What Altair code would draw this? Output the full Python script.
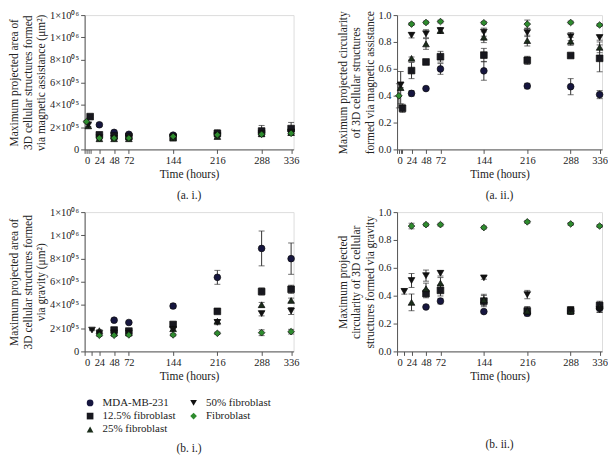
import altair as alt
import pandas as pd

FONT = "Liberation Serif"
TXT = "#222222"

SERIES = ["MDA-MB-231", "12.5% fibroblast", "25% fibroblast", "50% fibroblast", "Fibroblast"]
LEGEND_ORDER = ["MDA-MB-231", "50% fibroblast", "12.5% fibroblast", "Fibroblast", "25% fibroblast"]
SHAPES = ["circle", "triangle-down", "square", "diamond", "triangle-up"]
FILLS = ["#16163f", "#111111", "#18181f", "#2e8b2e", "#1b2d1b"]

# (a. i.) magnetic assistance – projected area (um^2)
A1_T = {
    "MDA-MB-231": [24, 48, 72, 144, 216, 288, 336],
    "12.5% fibroblast": [9, 24, 48, 72, 144, 216, 288, 336],
    "25% fibroblast": [6, 24, 48, 72, 144, 216, 288, 336],
    "50% fibroblast": [6, 24, 48, 72, 144, 216, 288, 336],
    "Fibroblast": [3, 24, 48, 72, 144, 216, 288, 336],
}
A1_V = {
    "MDA-MB-231": [2.2e5, 1.52e5, 1.35e5, 1.27e5, 1.4e5, 1.55e5, 1.7e5],
    "12.5% fibroblast": [2.93e5, 1.3e5, 1.2e5, 1.15e5, 1.1e5, 1.44e5, 1.64e5, 1.86e5],
    "25% fibroblast": [2.1e5, 0.95e5, 0.95e5, 0.95e5, 1.0e5, 1.15e5, 1.4e5, 1.5e5],
    "50% fibroblast": [2.2e5, 1.05e5, 1.0e5, 1.0e5, 1.05e5, 1.25e5, 1.45e5, 1.55e5],
    "Fibroblast": [2.48e5, 1.01e5, 1.01e5, 1.01e5, 1.16e5, 1.3e5, 1.35e5, 1.44e5],
}
A1_E = {
    "MDA-MB-231": [0.15e5, 0.12e5, 0.1e5, 0.1e5, 0.2e5, 0.25e5, 0.3e5],
    "12.5% fibroblast": [0.1e5, 0.15e5, 0.15e5, 0.15e5, 0.15e5, 0.3e5, 0.5e5, 0.55e5],
    "25% fibroblast": [0.2e5, 0.1e5, 0.15e5, 0.1e5, 0.1e5, 0.15e5, 0.15e5, 0.15e5],
    "50% fibroblast": [0.15e5, 0.1e5, 0.1e5, 0.1e5, 0.1e5, 0.15e5, 0.15e5, 0.15e5],
    "Fibroblast": [0.1e5, 0.1e5, 0.1e5, 0.1e5, 0.1e5, 0.15e5, 0.15e5, 0.15e5],
}

# (a. ii.) magnetic assistance – circularity
A2_T = A1_T
A2_V = {
    "MDA-MB-231": [0.417, 0.453, 0.599, 0.585, 0.472, 0.467, 0.408],
    "12.5% fibroblast": [0.306, 0.587, 0.651, 0.69, 0.702, 0.663, 0.699, 0.678],
    "25% fibroblast": [0.46, 0.678, 0.785, 0.885, 0.835, 0.81, 0.805, 0.76],
    "50% fibroblast": [0.48, 0.85, 0.861, 0.885, 0.873, 0.87, 0.84, 0.833],
    "Fibroblast": [0.399, 0.933, 0.945, 0.952, 0.943, 0.933, 0.945, 0.926],
}
A2_E = {
    "MDA-MB-231": [0.02, 0.01, 0.04, 0.07, 0.02, 0.06, 0.03],
    "12.5% fibroblast": [0.03, 0.06, 0.01, 0.04, 0.05, 0.03, 0.01, 0.1],
    "25% fibroblast": [0.12, 0.01, 0.04, 0.02, 0.04, 0.04, 0.03, 0.04],
    "50% fibroblast": [0.02, 0.02, 0.03, 0.02, 0.03, 0.03, 0.03, 0.02],
    "Fibroblast": [0.09, 0.01, 0.01, 0.01, 0.01, 0.03, 0.01, 0.01],
}

# (b. i.) gravity – projected area (um^2)
B1_T = {
    "MDA-MB-231": [48, 72, 144, 216, 288, 336],
    "12.5% fibroblast": [48, 72, 144, 216, 288, 336],
    "25% fibroblast": [24, 48, 72, 144, 216, 288, 336],
    "50% fibroblast": [12, 24, 48, 72, 144, 216, 288, 336],
    "Fibroblast": [24, 48, 72, 144, 216, 288, 336],
}
B1_V = {
    "MDA-MB-231": [2.69e5, 2.49e5, 3.91e5, 6.38e5, 8.87e5, 7.99e5],
    "12.5% fibroblast": [1.84e5, 1.75e5, 2.32e5, 3.45e5, 5.16e5, 5.35e5],
    "25% fibroblast": [1.79e5, 1.6e5, 1.6e5, 1.95e5, 2.6e5, 4.02e5, 4.39e5],
    "50% fibroblast": [1.84e5, 1.55e5, 1.6e5, 1.6e5, 1.9e5, 2.5e5, 3.26e5, 3.48e5],
    "Fibroblast": [1.39e5, 1.39e5, 1.42e5, 1.42e5, 1.56e5, 1.61e5, 1.7e5],
}
B1_E = {
    "MDA-MB-231": [0.15e5, 0.1e5, 0.2e5, 0.6e5, 1.5e5, 1.35e5],
    "12.5% fibroblast": [0.1e5, 0.1e5, 0.15e5, 0.1e5, 0.3e5, 0.35e5],
    "25% fibroblast": [0.1e5, 0.1e5, 0.1e5, 0.1e5, 0.15e5, 0.2e5, 0.2e5],
    "50% fibroblast": [0.05e5, 0.1e5, 0.1e5, 0.1e5, 0.1e5, 0.2e5, 0.2e5, 0.3e5],
    "Fibroblast": [0.1e5, 0.1e5, 0.1e5, 0.1e5, 0.1e5, 0.25e5, 0.2e5],
}

# (b. ii.) gravity – circularity
B2_T = B1_T
B2_V = {
    "MDA-MB-231": [0.319, 0.361, 0.286, 0.274, 0.29, 0.31],
    "12.5% fibroblast": [0.415, 0.438, 0.361, 0.29, 0.291, 0.33],
    "25% fibroblast": [0.352, 0.45, 0.49, 0.37, 0.29, 0.29, 0.32],
    "50% fibroblast": [0.431, 0.509, 0.544, 0.561, 0.528, 0.408, 0.3, 0.3],
    "Fibroblast": [0.9, 0.91, 0.91, 0.889, 0.93, 0.915, 0.9],
}
B2_E = {
    "MDA-MB-231": [0.01, 0.02, 0.01, 0.02, 0.02, 0.03],
    "12.5% fibroblast": [0.03, 0.04, 0.04, 0.03, 0.02, 0.03],
    "25% fibroblast": [0.06, 0.04, 0.04, 0.04, 0.03, 0.02, 0.03],
    "50% fibroblast": [0.02, 0.05, 0.04, 0.02, 0.01, 0.03, 0.02, 0.02],
    "Fibroblast": [0.02, 0.01, 0.01, 0.01, 0.01, 0.01, 0.01],
}

X_TICKS_A = [0, 3, 6, 9, 24, 48, 72, 144, 216, 288, 336]
X_TICKS_B = [0, 12, 24, 48, 72, 144, 216, 288, 336]
AREA_TICKS = [0, 2e5, 4e5, 6e5, 8e5, 1e6, 1.2e6]
CIRC_TICKS = [0, 0.2, 0.4, 0.6, 0.8, 1.0]

AREA_LABEL = ("datum.value == 0 ? '0' : (datum.value >= 1000000 ? '1×10⁰⁶' : "
              "format(datum.value / 100000, 'd') + '×10⁰⁵')")
X_LABEL = "datum.value > 0 && datum.value < 20 ? '' : datum.label"


def frame(T, V, E):
    rows, caps = [], []
    for s in SERIES:
        for t, v, e in zip(T[s], V[s], E[s]):
            rows.append({"series": s, "t": t, "v": v, "lo": v - e, "hi": v + e})
            caps.append({"series": s, "t": t, "c": v - e})
            caps.append({"series": s, "t": t, "c": v + e})
    return pd.DataFrame(rows), pd.DataFrame(caps)


def panel(T, V, E, ydom, yticks, ylabel_expr, yfmt, ytitle, xticks, caption,
          cap_offset, width, height, legend=False):
    df, caps = frame(T, V, E)
    xaxis = alt.Axis(values=xticks, labelExpr=X_LABEL, title="Time (hours)",
                     grid=False, tickSize=4, labelPadding=2, titlePadding=3,
                     labelFontSize=10.5, titleFontSize=11.5, labelFont=FONT,
                     titleFont=FONT, titleFontWeight="normal", labelColor=TXT,
                     titleColor=TXT, domainColor="#555", tickColor="#555")
    yaxis_kw = dict(values=yticks, title=ytitle, grid=False, tickSize=4,
                    labelPadding=2, titlePadding=3, labelFontSize=10.5,
                    titleFontSize=11.5, labelFont=FONT, titleFont=FONT,
                    titleFontWeight="normal", labelColor=TXT, titleColor=TXT,
                    domainColor="#555", tickColor="#555", titleLineHeight=13.5)
    if ylabel_expr:
        yaxis_kw["labelExpr"] = ylabel_expr
    if yfmt:
        yaxis_kw["format"] = yfmt
    yaxis = alt.Axis(**yaxis_kw)
    xs = alt.Scale(domain=[0, 340], nice=False)
    ys = alt.Scale(domain=ydom, nice=False)

    rules = alt.Chart(df).mark_rule(color="#333", strokeWidth=1).encode(
        x=alt.X("t:Q", scale=xs, axis=xaxis),
        y=alt.Y("lo:Q", scale=ys, axis=yaxis),
        y2="hi:Q",
    )
    capm = alt.Chart(caps).mark_tick(orient="horizontal", size=6, thickness=1,
                                     color="#333").encode(
        x=alt.X("t:Q", scale=xs, axis=xaxis),
        y=alt.Y("c:Q", scale=ys, axis=yaxis),
    )
    if legend:
        leg = alt.Legend(title=None, orient="bottom", direction="horizontal",
                         columns=2, labelFont=FONT, labelFontSize=11,
                         labelColor=TXT, symbolSize=45, symbolStrokeColor="#111",
                         symbolStrokeWidth=0.7, columnPadding=12, rowPadding=1.5,
                         offset=15, padding=0, labelOffset=7)
    else:
        leg = None
    pts = alt.Chart(df).mark_point(filled=True, size=45, stroke="#0d0d0d",
                                   strokeWidth=0.7, opacity=1).encode(
        x=alt.X("t:Q", scale=xs, axis=xaxis),
        y=alt.Y("v:Q", scale=ys, axis=yaxis),
        shape=alt.Shape("series:N", scale=alt.Scale(domain=LEGEND_ORDER, range=SHAPES),
                        legend=leg),
        fill=alt.Fill("series:N", scale=alt.Scale(domain=LEGEND_ORDER, range=FILLS),
                      legend=leg),
    )
    return alt.layer(rules, capm, pts).properties(
        width=width, height=height,
        title=alt.TitleParams(caption, orient="bottom", frame="group",
                              anchor="middle", font=FONT, fontSize=11.5,
                              fontWeight="normal", color=TXT, offset=cap_offset),
    )


a1 = panel(A1_T, A1_V, A1_E, [0, 1.2e6], AREA_TICKS, AREA_LABEL, None,
           ["Maximum projected area of", "3D cellular structures formed",
            "via magnetic assistance (μm²)"],
           X_TICKS_A, "(a. i.)", 10, 210, 135)
a2 = panel(A2_T, A2_V, A2_E, [0, 1.0], CIRC_TICKS, None, ".1f",
           ["Maximum projected circularity", "of 3D cellular structures",
            "formed via magnetic assistance"],
           X_TICKS_A, "(a. ii.)", 10, 206, 135)
b1 = panel(B1_T, B1_V, B1_E, [0, 1.2e6], AREA_TICKS, AREA_LABEL, None,
           ["Maximum projected area of", "3D cellular structures formed",
            "via gravity (μm²)"],
           X_TICKS_B, "(b. i.)", 8, 210, 140, legend=True)
b2 = panel(B2_T, B2_V, B2_E, [0, 1.0], CIRC_TICKS, None, ".1f",
           ["Maximum projected", "circularity of 3D cellular",
            "structures formed via gravity"],
           X_TICKS_B, "(b. ii.)", 57, 206, 140)

top = alt.hconcat(a1, a2, spacing=37).resolve_scale(shape="independent", fill="independent").resolve_legend(shape="independent", fill="independent")
bottom = alt.hconcat(b1, b2, spacing=37).resolve_scale(shape="independent", fill="independent").resolve_legend(shape="independent", fill="independent")

chart = alt.vconcat(top, bottom, spacing=4).resolve_scale(
    shape="independent", fill="independent").resolve_legend(
    shape="independent", fill="independent").properties(
    padding={"left": 0, "top": 0, "right": 0, "bottom": 0}
).configure_view(stroke=None).configure(background="white")

chart.save("out.html", embed_options={"renderer": "svg", "actions": False})
